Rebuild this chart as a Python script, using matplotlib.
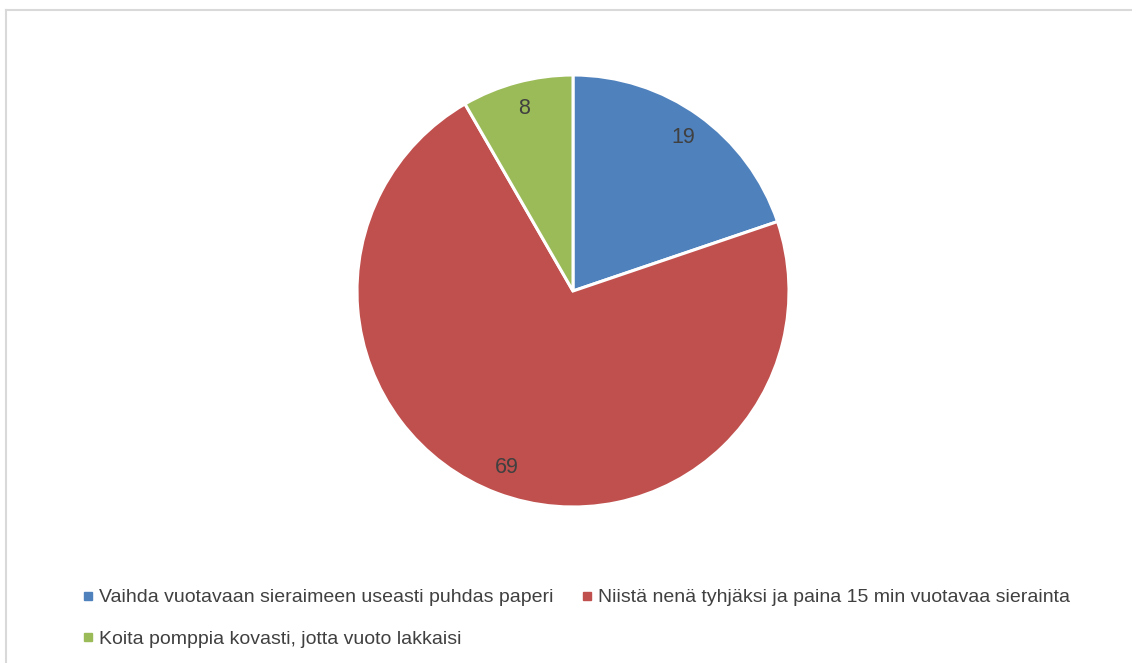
import matplotlib.pyplot as plt
from matplotlib.lines import Line2D

plt.rcParams['font.family'] = ['Liberation Sans', 'DejaVu Sans']

labels = ['Vaihda vuotavaan sieraimeen useasti puhdas paperi',
          'Niistä nenä tyhjäksi ja paina 15 min vuotavaa sierainta',
          'Koita pomppia kovasti, jotta vuoto lakkaisi']
values = [19, 69, 8]
colors = ['#4F81BD', '#C0504D', '#9BBB59']
textcol = '#404040'

W, H = 1132, 663
fig = plt.figure(figsize=(W / 100, H / 100), dpi=100)

# pie centre and radius in pixels
cx, cy, r = 573, 291, 216
ax = fig.add_axes([(cx - r) / W, (H - cy - r) / H, 2 * r / W, 2 * r / H])
wedges, texts = ax.pie(values, colors=colors, startangle=90, counterclock=False,
                       labels=[str(v) for v in values], labeldistance=0.875,
                       wedgeprops=dict(edgecolor='white', linewidth=2.2),
                       textprops=dict(color=textcol, fontsize=15.5))
for t in texts:
    t.set_horizontalalignment('center')
    t.set_verticalalignment('center')
ax.set_xlim(-1, 1)
ax.set_ylim(-1, 1)
ax.set_aspect('equal')
ax.axis('off')

# frame lines (top and left only visible)
fig.add_artist(Line2D([5.5 / W, 1], [1 - 9.5 / H, 1 - 9.5 / H], color='#D9D9D9', lw=1.5))
fig.add_artist(Line2D([5.5 / W, 5.5 / W], [0, 1 - 9.5 / H], color='#D9D9D9', lw=1.5))

# legend: order so that column-major fill gives rows [0,1] / [2]
order = [0, 2, 1]
handles = [Line2D([], [], marker='s', color=colors[i], linestyle='none', markersize=6)
           for i in order]
fig.legend(handles, [labels[i] for i in order], ncol=2, frameon=False,
           loc='upper left', bbox_to_anchor=(72 / W, 1 - 579 / H),
           fontsize=14, labelcolor=textcol, handlelength=0.6, handletextpad=0.3,
           columnspacing=1.4, labelspacing=1.25, borderpad=0)

fig.savefig('out.png', dpi=100)
